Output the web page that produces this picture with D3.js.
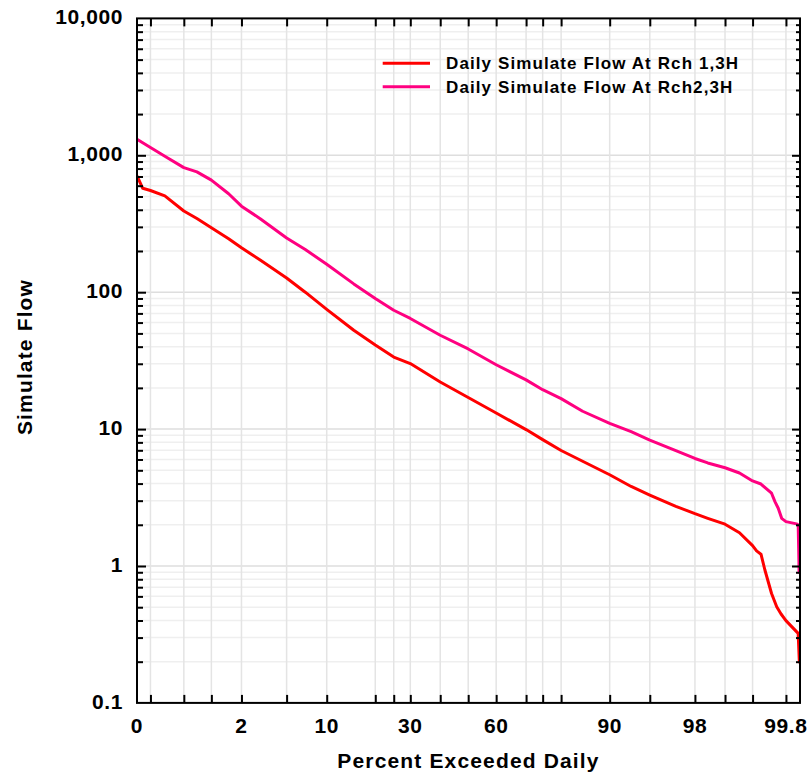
<!DOCTYPE html>
<html>
<head>
<meta charset="utf-8">
<script src="https://cdn.jsdelivr.net/npm/d3@7"></script>
<style>
  html, body { margin: 0; padding: 0; background: #fff; }
  svg { display: block; }
  text { font-family: "Liberation Sans", Arial, sans-serif; font-weight: bold; fill: #000; }
</style>
</head>
<body>
<svg id="chart" width="812" height="779"></svg>
<script>
// Flow duration curves, percent of days exceeded vs simulated flow
const rch1Pct  = [0.135, 0.16, 0.2, 0.3, 0.5, 0.7, 1, 1.5, 2, 3, 5, 7, 10, 15, 20, 25, 30, 40, 50, 60, 70, 75, 80, 85, 90, 93, 95, 97, 98, 98.5, 99, 99.3, 99.5, 99.55, 99.6, 99.64, 99.7, 99.74, 99.77, 99.8, 99.86, 99.865];
const rch1Flow = [706, 574, 553, 505, 392, 345, 296, 246, 211, 171, 127, 100, 75, 52.7, 41.1, 33.6, 30.1, 22.1, 17.0, 13.1, 9.92, 8.38, 6.98, 5.82, 4.64, 3.81, 3.30, 2.73, 2.41, 2.23, 2.02, 1.75, 1.41, 1.29, 1.22, 0.935, 0.63, 0.504, 0.446, 0.399, 0.322, 0.195];

const rch2Pct  = [0.135, 0.2, 0.3, 0.5, 0.7, 1, 1.5, 2, 3, 5, 7, 10, 15, 20, 25, 30, 40, 50, 60, 70, 75, 80, 85, 90, 93, 95, 97, 98, 98.5, 99, 99.3, 99.5, 99.6, 99.7, 99.727, 99.751, 99.774, 99.8, 99.853, 99.86, 99.862, 99.864];
const rch2Flow = [1309, 1140, 983, 813, 756, 659, 524, 425, 343, 249, 205, 160, 115, 90.0, 73.8, 64.3, 48.5, 38.5, 29.5, 22.9, 19.4, 16.7, 13.5, 11.0, 9.57, 8.32, 6.97, 6.10, 5.66, 5.22, 4.78, 4.18, 3.97, 3.40, 2.95, 2.64, 2.23, 2.11, 2.03, 2.0, 1.35, 0.88];

const seriesNames  = ["Daily Simulate Flow At Rch 1,3H", "Daily Simulate Flow At Rch2,3H"];
const seriesColors = ["#ff0000", "#ff0080"];

// x axis: probability ticks (percent exceeded)
const xTickPct    = [0.2, 0.5, 1, 2, 5, 10, 20, 25, 30, 40, 50, 60, 70, 75, 80, 90, 95, 98, 99, 99.5, 99.8];
const xLabelPct   = [0.135, 2, 10, 30, 60, 90, 98, 99.8];
const xLabelText  = ["0", "2", "10", "30", "60", "90", "98", "99.8"];

// y axis: log decades
const yMajor      = [0.1, 1, 10, 100, 1000, 10000];
const yLabelText  = ["0.1", "1", "10", "100", "1,000", "10,000"];

const xTitle = "Percent Exceeded Daily";
const yTitle = "Simulate Flow";

// inverse standard normal CDF (Acklam)
function probit(p) {
  const a = [-3.969683028665376e+01, 2.209460984245205e+02, -2.759285104469687e+02, 1.383577518672690e+02, -3.066479806614716e+01, 2.506628277459239e+00];
  const b = [-5.447609879822406e+01, 1.615858368580409e+02, -1.556989798598866e+02, 6.680131188771972e+01, -1.328068155288572e+01];
  const c = [-7.784894002430293e-03, -3.223964580411365e-01, -2.400758277161838e+00, -2.549732539343734e+00, 4.374664141464968e+00, 2.938163982698783e+00];
  const d = [7.784695709041462e-03, 3.224671290700398e-01, 2.445134137142996e+00, 3.754408661907416e+00];
  const pl = 0.02425, ph = 1 - pl;
  let q, r;
  if (p < pl) {
    q = Math.sqrt(-2 * Math.log(p));
    return (((((c[0]*q+c[1])*q+c[2])*q+c[3])*q+c[4])*q+c[5]) / ((((d[0]*q+d[1])*q+d[2])*q+d[3])*q+1);
  }
  if (p <= ph) {
    q = p - 0.5; r = q * q;
    return (((((a[0]*r+a[1])*r+a[2])*r+a[3])*r+a[4])*r+a[5])*q / (((((b[0]*r+b[1])*r+b[2])*r+b[3])*r+b[4])*r+1);
  }
  q = Math.sqrt(-2 * Math.log(1 - p));
  return -(((((c[0]*q+c[1])*q+c[2])*q+c[3])*q+c[4])*q+c[5]) / ((((d[0]*q+d[1])*q+d[2])*q+d[3])*q+1);
}
const zOf = pct => probit(pct / 100);

const plot = { left: 137, right: 800, top: 18.4, bottom: 702.9 };

const xz = d3.scaleLinear().domain([-3, 3]).range([plot.left, plot.right - 0.6]);
const y  = d3.scaleLog().domain([0.1, 10000]).range([plot.bottom, plot.top]);

const svg = d3.select("#chart");

// minor log ticks 2..9 in every decade
const yMinor = [];
yMajor.slice(0, -1).forEach(dec => { for (let k = 2; k <= 9; k++) yMinor.push(dec * k); });

// grid
const grid = svg.append("g");
grid.selectAll("line.hminor").data(yMinor).join("line")
  .attr("x1", plot.left).attr("x2", plot.right)
  .attr("y1", d => y(d)).attr("y2", d => y(d))
  .attr("stroke", "#efefef").attr("stroke-width", 1.5);
grid.selectAll("line.hmajor").data(yMajor.slice(1, -1)).join("line")
  .attr("x1", plot.left).attr("x2", plot.right)
  .attr("y1", d => y(d)).attr("y2", d => y(d))
  .attr("stroke", "#dedede").attr("stroke-width", 1.5);
grid.selectAll("line.v").data(xTickPct).join("line")
  .attr("x1", d => xz(zOf(d))).attr("x2", d => xz(zOf(d)))
  .attr("y1", plot.top).attr("y2", plot.bottom)
  .attr("stroke", "#e4e4e4").attr("stroke-width", 1.5);

// curves
svg.append("clipPath").attr("id", "plotClip").append("rect")
  .attr("x", plot.left).attr("y", plot.top)
  .attr("width", plot.right - plot.left).attr("height", plot.bottom - plot.top);

const line = d3.line().x(d => xz(zOf(d[0]))).y(d => y(d[1]));
const series = [
  d3.zip(rch1Pct, rch1Flow),
  d3.zip(rch2Pct, rch2Flow)
];
svg.append("g").attr("clip-path", "url(#plotClip)")
  .selectAll("path").data(series).join("path")
  .attr("d", line)
  .attr("fill", "none")
  .attr("stroke", (d, i) => seriesColors[i])
  .attr("stroke-width", 3)
  .attr("stroke-linejoin", "round");

// axes (ticks point inward)
const tickVals = xTickPct.map(zOf);
function styleAxis(g) {
  g.select(".domain").remove();
  g.selectAll(".tick line").attr("stroke", "#000").attr("stroke-width", 2);
}
svg.append("g").attr("transform", `translate(0,${plot.bottom})`)
  .call(d3.axisBottom(xz).tickValues(tickVals).tickSizeInner(-8).tickSizeOuter(0).tickFormat(""))
  .call(styleAxis);
svg.append("g").attr("transform", `translate(0,${plot.top})`)
  .call(d3.axisTop(xz).tickValues(tickVals).tickSizeInner(-8).tickSizeOuter(0).tickFormat(""))
  .call(styleAxis);

svg.append("g").attr("transform", `translate(${plot.left},0)`)
  .call(d3.axisLeft(y).tickValues(yMinor).tickSizeInner(-6).tickSizeOuter(0).tickFormat(""))
  .call(styleAxis);
svg.append("g").attr("transform", `translate(${plot.left},0)`)
  .call(d3.axisLeft(y).tickValues(yMajor.slice(1, -1)).tickSizeInner(-9).tickSizeOuter(0).tickFormat(""))
  .call(styleAxis);
svg.append("g").attr("transform", `translate(${plot.right},0)`)
  .call(d3.axisRight(y).tickValues(yMinor).tickSizeInner(-4).tickSizeOuter(0).tickFormat(""))
  .call(styleAxis);
svg.append("g").attr("transform", `translate(${plot.right},0)`)
  .call(d3.axisRight(y).tickValues(yMajor.slice(1, -1)).tickSizeInner(-8).tickSizeOuter(0).tickFormat(""))
  .call(styleAxis);

// frame
svg.append("rect")
  .attr("x", plot.left).attr("y", plot.top)
  .attr("width", plot.right - plot.left).attr("height", plot.bottom - plot.top)
  .attr("fill", "none").attr("stroke", "#000").attr("stroke-width", 2);

// tick labels
svg.append("g").selectAll("text").data(yMajor).join("text")
  .attr("x", 123).attr("y", d => y(d) + 6)
  .attr("text-anchor", "end")
  .style("font-size", "21px").style("letter-spacing", "0.6px")
  .text((d, i) => yLabelText[i]);

svg.append("g").selectAll("text").data(xLabelPct).join("text")
  .attr("x", d => xz(zOf(d))).attr("y", 733)
  .attr("text-anchor", "middle")
  .style("font-size", "21px").style("letter-spacing", "0.6px")
  .text((d, i) => xLabelText[i]);

// axis titles
svg.append("text")
  .attr("x", (plot.left + plot.right) / 2).attr("y", 768)
  .attr("text-anchor", "middle")
  .style("font-size", "21px").style("letter-spacing", "1.15px")
  .text(xTitle);
svg.append("text")
  .attr("transform", "translate(31.5,357) rotate(-90)")
  .attr("text-anchor", "middle")
  .style("font-size", "21px").style("letter-spacing", "1.15px")
  .text(yTitle);

// legend
const legend = svg.append("g");
const legendY = [63.3, 86.7];
legend.selectAll("line").data(seriesNames).join("line")
  .attr("x1", 382.7).attr("x2", 430)
  .attr("y1", (d, i) => legendY[i]).attr("y2", (d, i) => legendY[i])
  .attr("stroke", (d, i) => seriesColors[i]).attr("stroke-width", 3);
legend.selectAll("text").data(seriesNames).join("text")
  .attr("x", 446).attr("y", (d, i) => legendY[i] + 6)
  .style("font-size", "17px").style("letter-spacing", "1.1px")
  .text(d => d);
</script>
</body>
</html>
